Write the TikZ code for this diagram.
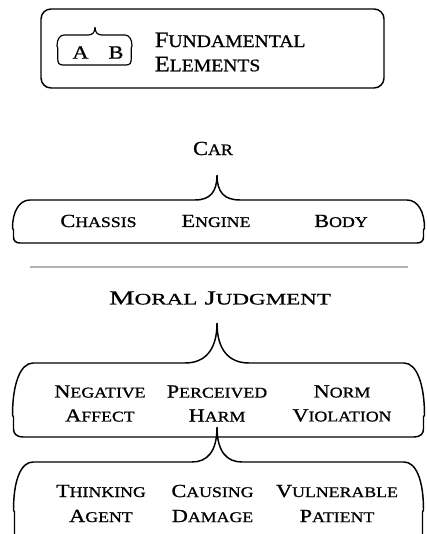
\documentclass[tikz,border=0pt]{standalone}
\usepackage{fontspec}
\setmainfont{Liberation Serif}[FakeStretch=1.2,FakeBold=0.9]
\newfontfamily\carfont{Liberation Serif}[FakeStretch=1.12,FakeBold=0.9]
\newfontfamily\mjfont{Liberation Serif}[FakeStretch=1.44,FakeBold=0.9]
\newfontfamily\fundfont{Liberation Serif}[FakeStretch=1.11,FakeBold=0.9]
\makeatletter
\newcommand\Sc[2]{#1{\fontsize{\the\dimexpr0.8\dimexpr\f@size pt\relax\relax}{\f@baselineskip}\selectfont #2}}
\makeatother
\begin{document}
\begin{tikzpicture}[x=0.75pt,y=-0.75pt,line width=1.1pt,line join=round,
  lbl/.style={inner sep=0pt,align=center,font=\fontsize{13.9}{18}\selectfont},
  lbllow/.style={inner sep=0pt,align=center,font=\fontsize{13.9}{18.75}\selectfont},
  cartitle/.style={inner sep=0pt,font=\carfont\fontsize{15}{18}\selectfont},
  mjtitle/.style={inner sep=0pt,font=\mjfont\fontsize{15}{18}\selectfont},
  fundtitle/.style={inner sep=0pt,align=left,font=\fundfont\fontsize{16.6}{18.2}\selectfont},
  icontext/.style={inner sep=0pt,font=\fontsize{14}{16}\selectfont},
  brace/.style={draw=black,line width=1.1pt},
  sep/.style={draw=black!30,line width=0.8pt}]
\useasboundingbox (0,0) rectangle (426,534);
\clip (0,0) rectangle (426,534);

% legend box
\draw[brace,rounded corners=7.5pt] (41,9) rectangle (384,88);
\draw[brace,line width=0.9pt] (95,27) .. controls (95,32) and (93,35) .. (88,35) -- (64,35)
  .. controls (60,35) and (57,39) .. (57,46) -- (57.8,48) -- (57.8,59)
  .. controls (57.8,63) and (59,65) .. (63,65) -- (126,65)
  .. controls (130,65) and (131.2,63) .. (131.2,59) -- (131.2,48) -- (132,46)
  .. controls (132,39) and (129,35) .. (125,35) -- (102,35)
  .. controls (97,35) and (95,32) .. (95,27);
\node[icontext] (a) at (80.5,52.5) {A};
\node[icontext] (b) at (116,52.5) {B};
\node[fundtitle,anchor=west] (fund) at (154,52) {\Sc{F}{UNDAMENTAL}\\\Sc{E}{LEMENTS}};

% car
\node[cartitle] (car) at (213,148.5) {\Sc{C}{AR}};
\draw[brace] (217,175) .. controls (217,192) and (210,200) .. (195,200) -- (30,200)
  .. controls (19,200) and (12.5,212) .. (12.5,228) -- (13.5,230) -- (13.5,237)
  .. controls (13.5,241) and (16,243) .. (20,243) -- (417,243)
  .. controls (421,243) and (423.5,241) .. (423.5,237) -- (423.5,230) -- (424.5,228)
  .. controls (424.5,212) and (418,200) .. (407,200) -- (240,200)
  .. controls (224,200) and (217,192) .. (217,175);
\node[lbl] (chassis) at (98.5,221) {\Sc{C}{HASSIS}};
\node[lbl] (engine) at (216,221) {\Sc{E}{NGINE}};
\node[lbl] (body) at (341,221) {\Sc{B}{ODY}};

\draw[sep] (30,267) -- (408,267);

% moral judgment
\node[mjtitle] (mj) at (220,298) {\Sc{M}{ORAL} \Sc{J}{UDGMENT}};
\draw[brace] (217,323) .. controls (217,350) and (205,363) .. (185,363) -- (33,363)
  .. controls (20,363) and (12.5,385) .. (12.5,415) -- (13.5,417) -- (13.5,429)
  .. controls (13.5,434) and (17,437) .. (23,437) -- (414,437)
  .. controls (420,437) and (423.5,434) .. (423.5,429) -- (423.5,417) -- (424.5,415)
  .. controls (424.5,385) and (417,363) .. (404,363) -- (249,363)
  .. controls (229,363) and (217,350) .. (217,323);
\node[lbl] (neg) at (100,403.5) {\Sc{N}{EGATIVE}\\\Sc{A}{FFECT}};
\node[lbl] (harm) at (217,403.5) {\Sc{P}{ERCEIVED}\\\Sc{H}{ARM}};
\node[lbl] (norm) at (342,403.5) {\Sc{N}{ORM}\\\Sc{V}{IOLATION}};

% harm components
\draw[brace] (217,427) .. controls (217,452) and (207,462) .. (192,462) -- (33,462)
  .. controls (21,462) and (13.5,480) .. (13.5,510) -- (14.5,512) -- (14.5,535)
  .. controls (14.5,540) and (18,543) .. (24,543) -- (413,543)
  .. controls (419,543) and (422.5,540) .. (422.5,535) -- (422.5,512) -- (423.5,510)
  .. controls (423.5,480) and (416,462) .. (404,462) -- (242,462)
  .. controls (227,462) and (217,452) .. (217,427);
\node[lbllow] (think) at (101,503.5) {\Sc{T}{HINKING}\\\Sc{A}{GENT}};
\node[lbllow] (cause) at (212.5,503.5) {\Sc{C}{AUSING}\\\Sc{D}{AMAGE}};
\node[lbllow] (vuln) at (337,503.5) {\Sc{V}{ULNERABLE}\\\Sc{P}{ATIENT}};
\end{tikzpicture}
\end{document}
